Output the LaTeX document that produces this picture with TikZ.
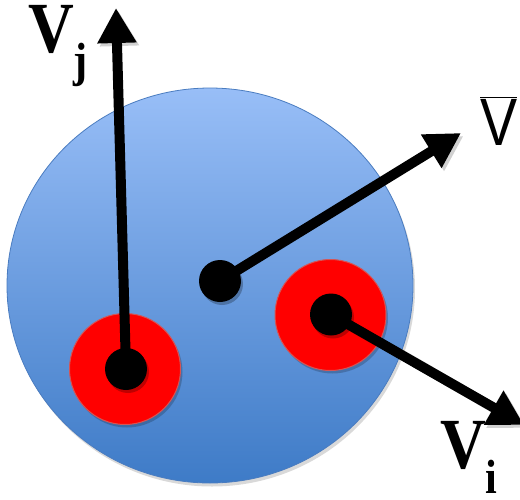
\documentclass[tikz,border=0pt]{standalone}
\usepackage{fontspec}
\setmainfont{Liberation Serif}
\newfontfamily\sansV{Liberation Sans}
\usetikzlibrary{arrows.meta}
\definecolor{blueTop}{RGB}{152,190,247}
\definecolor{blueBot}{RGB}{62,123,199}
\definecolor{blueEdge}{RGB}{74,124,192}
\definecolor{redFill}{RGB}{255,0,0}
\definecolor{redEdge}{RGB}{214,84,84}
\begin{document}
\begin{tikzpicture}[x=1pt,y=-1pt,
  vec/.style={line width=10pt,-{Triangle[length=35pt,width=37pt]},
    preaction={draw=black,opacity=0.18,transform canvas={shift={(2.5pt,-3pt)}}}},
  dotnode/.style={circle,fill=black,minimum size=42pt,inner sep=0pt,
    preaction={fill=black,opacity=0.25,transform canvas={shift={(2pt,-3pt)}}}},
  ring/.style={circle,fill=redFill,draw=redEdge,line width=1pt,minimum size=111pt,inner sep=0pt,
    preaction={fill=black,opacity=0.2,transform canvas={shift={(2pt,-3pt)}}}},
  boldlbl/.style={inner sep=0pt,anchor=base west,xscale=0.88,font=\fontsize{72}{72}\bfseries\selectfont},
  sanslbl/.style={inner sep=0pt,anchor=base west,xscale=0.83,font=\fontsize{67}{67}\sansV\selectfont}
]
\useasboundingbox (0,0) rectangle (520,499);
% big sphere
\fill[black,opacity=0.15] (212,289) ellipse [x radius=203, y radius=197.5];
\shade[top color=blueTop,bottom color=blueBot,draw=blueEdge,line width=0.8pt]
  (210,285.5) ellipse [x radius=203, y radius=197.5];
% red particles
\node[ring] (rj) at (125,369) {};
\node[ring] (ri) at (330.5,315) {};
% black dots
\node[dotnode] (dj) at (126,369) {};
\node[dotnode] (di) at (331,314.5) {};
\node[dotnode] (dc) at (220,281) {};
% tips
\coordinate (tj) at (116,8);
\coordinate (tc) at (461,133);
\coordinate (ti) at (524,425);
% vectors
\draw[vec] (dj.center) -- (tj);
\draw[vec] (dc.center) -- (tc);
\draw[vec] (di.center) -- (ti);
% labels
\node[boldlbl] (lj) at (28,52) {V\raisebox{-24pt}{\fontsize{48}{48}\selectfont j}};
\node[boldlbl] (li) at (440,468) {V\raisebox{-25pt}{\fontsize{48}{48}\selectfont i}};
\node[sanslbl] (lc) at (480,145) {$\overline{\hbox{V}}$};
\end{tikzpicture}
\end{document}
